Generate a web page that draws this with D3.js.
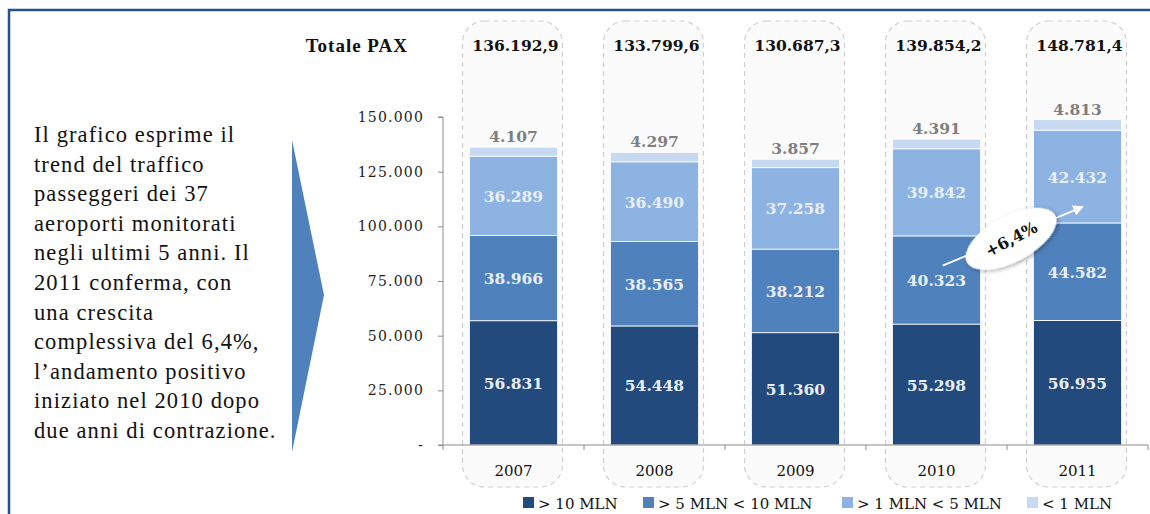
<!DOCTYPE html>
<html>
<head>
<meta charset="utf-8">
<script src="https://cdn.jsdelivr.net/npm/d3@7"></script>
<style>
  html, body { margin: 0; padding: 0; background: #fff; }
  svg { display: block; }
</style>
</head>
<body>
<div id="wrapper"></div>
<script>
var width = 1150;
var height = 514;

// data (migliaia di passeggeri)
var years = ["2007", "2008", "2009", "2010", "2011"];
var over10 = [56831, 54448, 51360, 55298, 56955];
var from5to10 = [38966, 38565, 38212, 40323, 44582];
var from1to5 = [36289, 36490, 37258, 39842, 42432];
var under1 = [4107, 4297, 3857, 4391, 4813];
var totals = ["136.192,9", "133.799,6", "130.687,3", "139.854,2", "148.781,4"];
var seriesNames = ["> 10 MLN", "> 5 MLN < 10 MLN", "> 1 MLN < 5 MLN", "< 1 MLN"];
var yTicks = [0, 25000, 50000, 75000, 100000, 125000, 150000];
var noteLines = [
  "Il grafico esprime il",
  "trend del traffico",
  "passeggeri dei 37",
  "aeroporti monitorati",
  "negli ultimi 5 anni. Il",
  "2011 conferma, con",
  "una crescita",
  "complessiva del 6,4%,",
  "l\u2019andamento positivo",
  "iniziato nel 2010 dopo",
  "due anni di contrazione."
];
var growthLabel = "+6,4%";

var colors = ["#234a7c", "#4f81bd", "#8db3e2", "#c6d9f1"];
var serif = "'DejaVu Serif', serif";
var times = "'Liberation Serif', 'Times New Roman', serif";

var svg = d3.select("#wrapper").append("svg")
  .attr("width", width)
  .attr("height", height);

var defs = svg.append("defs");
defs.append("marker")
  .attr("id", "head")
  .attr("viewBox", "0 0 10 10")
  .attr("refX", 8).attr("refY", 5)
  .attr("markerWidth", 6).attr("markerHeight", 6)
  .attr("orient", "auto")
  .append("path").attr("d", "M0,0 L10,5 L0,10 Z").attr("fill", "#fff");
var shadow = defs.append("filter").attr("id", "shadow")
  .attr("x", "-30%").attr("y", "-30%").attr("width", "160%").attr("height", "160%");
shadow.append("feDropShadow").attr("dx", 1).attr("dy", 2).attr("stdDeviation", 2)
  .attr("flood-color", "#000").attr("flood-opacity", 0.35);

// frame
svg.append("path")
  .attr("d", "M9," + height + " L9,10 L" + width + ",10")
  .attr("fill", "none")
  .attr("stroke", "#2c4f8a")
  .attr("stroke-width", 2.5);

// left comment
var note = svg.append("text")
  .attr("font-family", times)
  .attr("font-size", 22.5)
  .attr("letter-spacing", 1.1)
  .attr("fill", "#111");
noteLines.forEach(function(l, i){
  note.append("tspan").attr("x", 34).attr("y", 142 + i * 29.6).text(l);
});

// chevron
svg.append("path")
  .attr("d", "M292,140 L324,295 L292,452 Z")
  .attr("fill", "#4f81bd");

// scales
var x = d3.scaleBand()
  .domain(years)
  .range([443, 1148])
  .paddingInner(0.376)
  .paddingOuter(0.188);

var y = d3.scaleLinear()
  .domain([0, 150000])
  .range([445, 117]);

// dashed column boxes
var boxPad = 5;
svg.selectAll("rect.box")
  .data(years)
  .enter().append("rect")
  .attr("class", "box")
  .attr("x", function(d){ return x(d) - boxPad - 2; })
  .attr("width", x.bandwidth() + boxPad * 2 + 2)
  .attr("y", 21)
  .attr("height", 466)
  .attr("rx", 22).attr("ry", 22)
  .attr("fill", "#fbfbfb")
  .attr("stroke", "#d0d0d0")
  .attr("stroke-width", 1.2)
  .attr("stroke-dasharray", "5,4");

// "Totale PAX" row
svg.append("text")
  .attr("x", 408).attr("y", 52)
  .attr("text-anchor", "end")
  .attr("font-family", times)
  .attr("font-weight", "bold")
  .attr("font-size", 19)
  .attr("letter-spacing", 1)
  .attr("fill", "#111")
  .text("Totale PAX");

svg.selectAll("text.total")
  .data(years)
  .enter().append("text")
  .attr("class", "total")
  .attr("x", function(d){ return x(d) + x.bandwidth() / 2 + 2; })
  .attr("y", 51)
  .attr("text-anchor", "middle")
  .attr("font-family", serif)
  .attr("font-weight", "bold")
  .attr("font-size", 15.5)
  .attr("fill", "#111")
  .text(function(d, i){ return totals[i]; });

// stacked data
var table = years.map(function(yr, i){
  return { year: yr, s0: over10[i], s1: from5to10[i], s2: from1to5[i], s3: under1[i] };
});
var stack = d3.stack().keys(["s0", "s1", "s2", "s3"]);
var layers = stack(table);

var layer = svg.selectAll("g.layer")
  .data(layers)
  .enter().append("g")
  .attr("class", "layer")
  .attr("fill", function(d, i){ return colors[i]; });

layer.selectAll("rect")
  .data(function(d){ return d; })
  .enter().append("rect")
  .attr("x", function(d){ return x(d.data.year); })
  .attr("width", x.bandwidth())
  .attr("y", function(d){ return y(d[1]); })
  .attr("height", function(d){ return y(d[0]) - y(d[1]); })
  .attr("stroke", "#fff")
  .attr("stroke-width", 0.8);

var fmt = function(v){ return d3.format(",")(v).replace(/,/g, "."); };

// labels inside the three lower segments
layers.slice(0, 3).forEach(function(l){
  svg.selectAll(null)
    .data(l)
    .enter().append("text")
    .attr("x", function(d){ return x(d.data.year) + x.bandwidth() / 2; })
    .attr("y", function(d){ return (y(d[0]) + y(d[1])) / 2 + 6; })
    .attr("text-anchor", "middle")
    .attr("font-family", serif)
    .attr("font-weight", "bold")
    .attr("font-size", 15.5)
    .attr("fill", "#e9eff8")
    .text(function(d){ return fmt(d[1] - d[0]); });
});

// top segment labels above the bars
svg.selectAll(null)
  .data(layers[3])
  .enter().append("text")
  .attr("x", function(d){ return x(d.data.year) + x.bandwidth() / 2; })
  .attr("y", function(d){ return y(d[1]) - 5; })
  .attr("text-anchor", "middle")
  .attr("font-family", serif)
  .attr("font-weight", "bold")
  .attr("font-size", 15.5)
  .attr("fill", "#7f7f7f")
  .text(function(d){ return fmt(d[1] - d[0]); });

// y axis
var yAxis = svg.append("g")
  .attr("transform", "translate(443,0)")
  .call(d3.axisLeft(y)
    .tickValues(yTicks)
    .tickSize(5)
    .tickPadding(14)
    .tickFormat(function(d){ return d === 0 ? "-" : fmt(d); }));
yAxis.select(".domain").attr("stroke", "#8c8c8c").attr("d", "M-5,117 H0 V445 H-5");
yAxis.selectAll(".tick line").attr("stroke", "#8c8c8c");
yAxis.selectAll(".tick text")
  .attr("font-family", serif)
  .attr("font-size", 14)
  .attr("letter-spacing", 1.2)
  .attr("fill", "#222");

// x axis line with boundary ticks
var bounds = years.map(function(d){ return x(d) - x.step() * x.paddingInner() / 2; });
bounds.push(1148);
svg.append("line")
  .attr("x1", 443).attr("x2", 1148)
  .attr("y1", y(0)).attr("y2", y(0))
  .attr("stroke", "#8c8c8c");
svg.selectAll("line.xtick")
  .data(bounds)
  .enter().append("line")
  .attr("class", "xtick")
  .attr("x1", function(d){ return d; }).attr("x2", function(d){ return d; })
  .attr("y1", y(0)).attr("y2", y(0) + 5)
  .attr("stroke", "#8c8c8c");

svg.selectAll("text.year")
  .data(years)
  .enter().append("text")
  .attr("class", "year")
  .attr("x", function(d){ return x(d) + x.bandwidth() / 2; })
  .attr("y", 476)
  .attr("text-anchor", "middle")
  .attr("font-family", serif)
  .attr("font-size", 15)
  .attr("fill", "#111")
  .text(function(d){ return d; });

// growth callout
var ax1 = x("2010") + x.bandwidth() * 0.57, ay1 = y(82000);
var ax2 = x("2011") + x.bandwidth() * 0.55, ay2 = y(108800);
svg.append("line")
  .attr("x1", ax1).attr("y1", ay1)
  .attr("x2", ax2).attr("y2", ay2)
  .attr("stroke", "#fff")
  .attr("stroke-width", 1.8)
  .attr("marker-end", "url(#head)");
var cx = (x("2010") + x.bandwidth() + x("2011")) / 2 + 4;
var cy = y(94300);
var callout = svg.append("g")
  .attr("transform", "translate(" + cx + "," + cy + ") rotate(-28)");
callout.append("ellipse")
  .attr("rx", 50).attr("ry", 23)
  .attr("fill", "#fff")
  .attr("filter", "url(#shadow)");
callout.append("text")
  .attr("y", 6)
  .attr("text-anchor", "middle")
  .attr("font-family", serif)
  .attr("font-weight", "bold")
  .attr("font-size", 16)
  .attr("fill", "#111")
  .text(growthLabel);

// legend
var legendX = [523, 643, 842, 1027];
var legend = svg.selectAll("g.legend")
  .data(seriesNames)
  .enter().append("g")
  .attr("class", "legend")
  .attr("transform", function(d, i){ return "translate(" + legendX[i] + ",497)"; });
legend.append("rect")
  .attr("width", 11).attr("height", 11)
  .attr("fill", function(d, i){ return colors[i]; });
legend.append("text")
  .attr("x", 15).attr("y", 12)
  .attr("font-family", serif)
  .attr("font-size", 15)
  .attr("fill", "#111")
  .text(function(d){ return d; });
</script>
</body>
</html>
